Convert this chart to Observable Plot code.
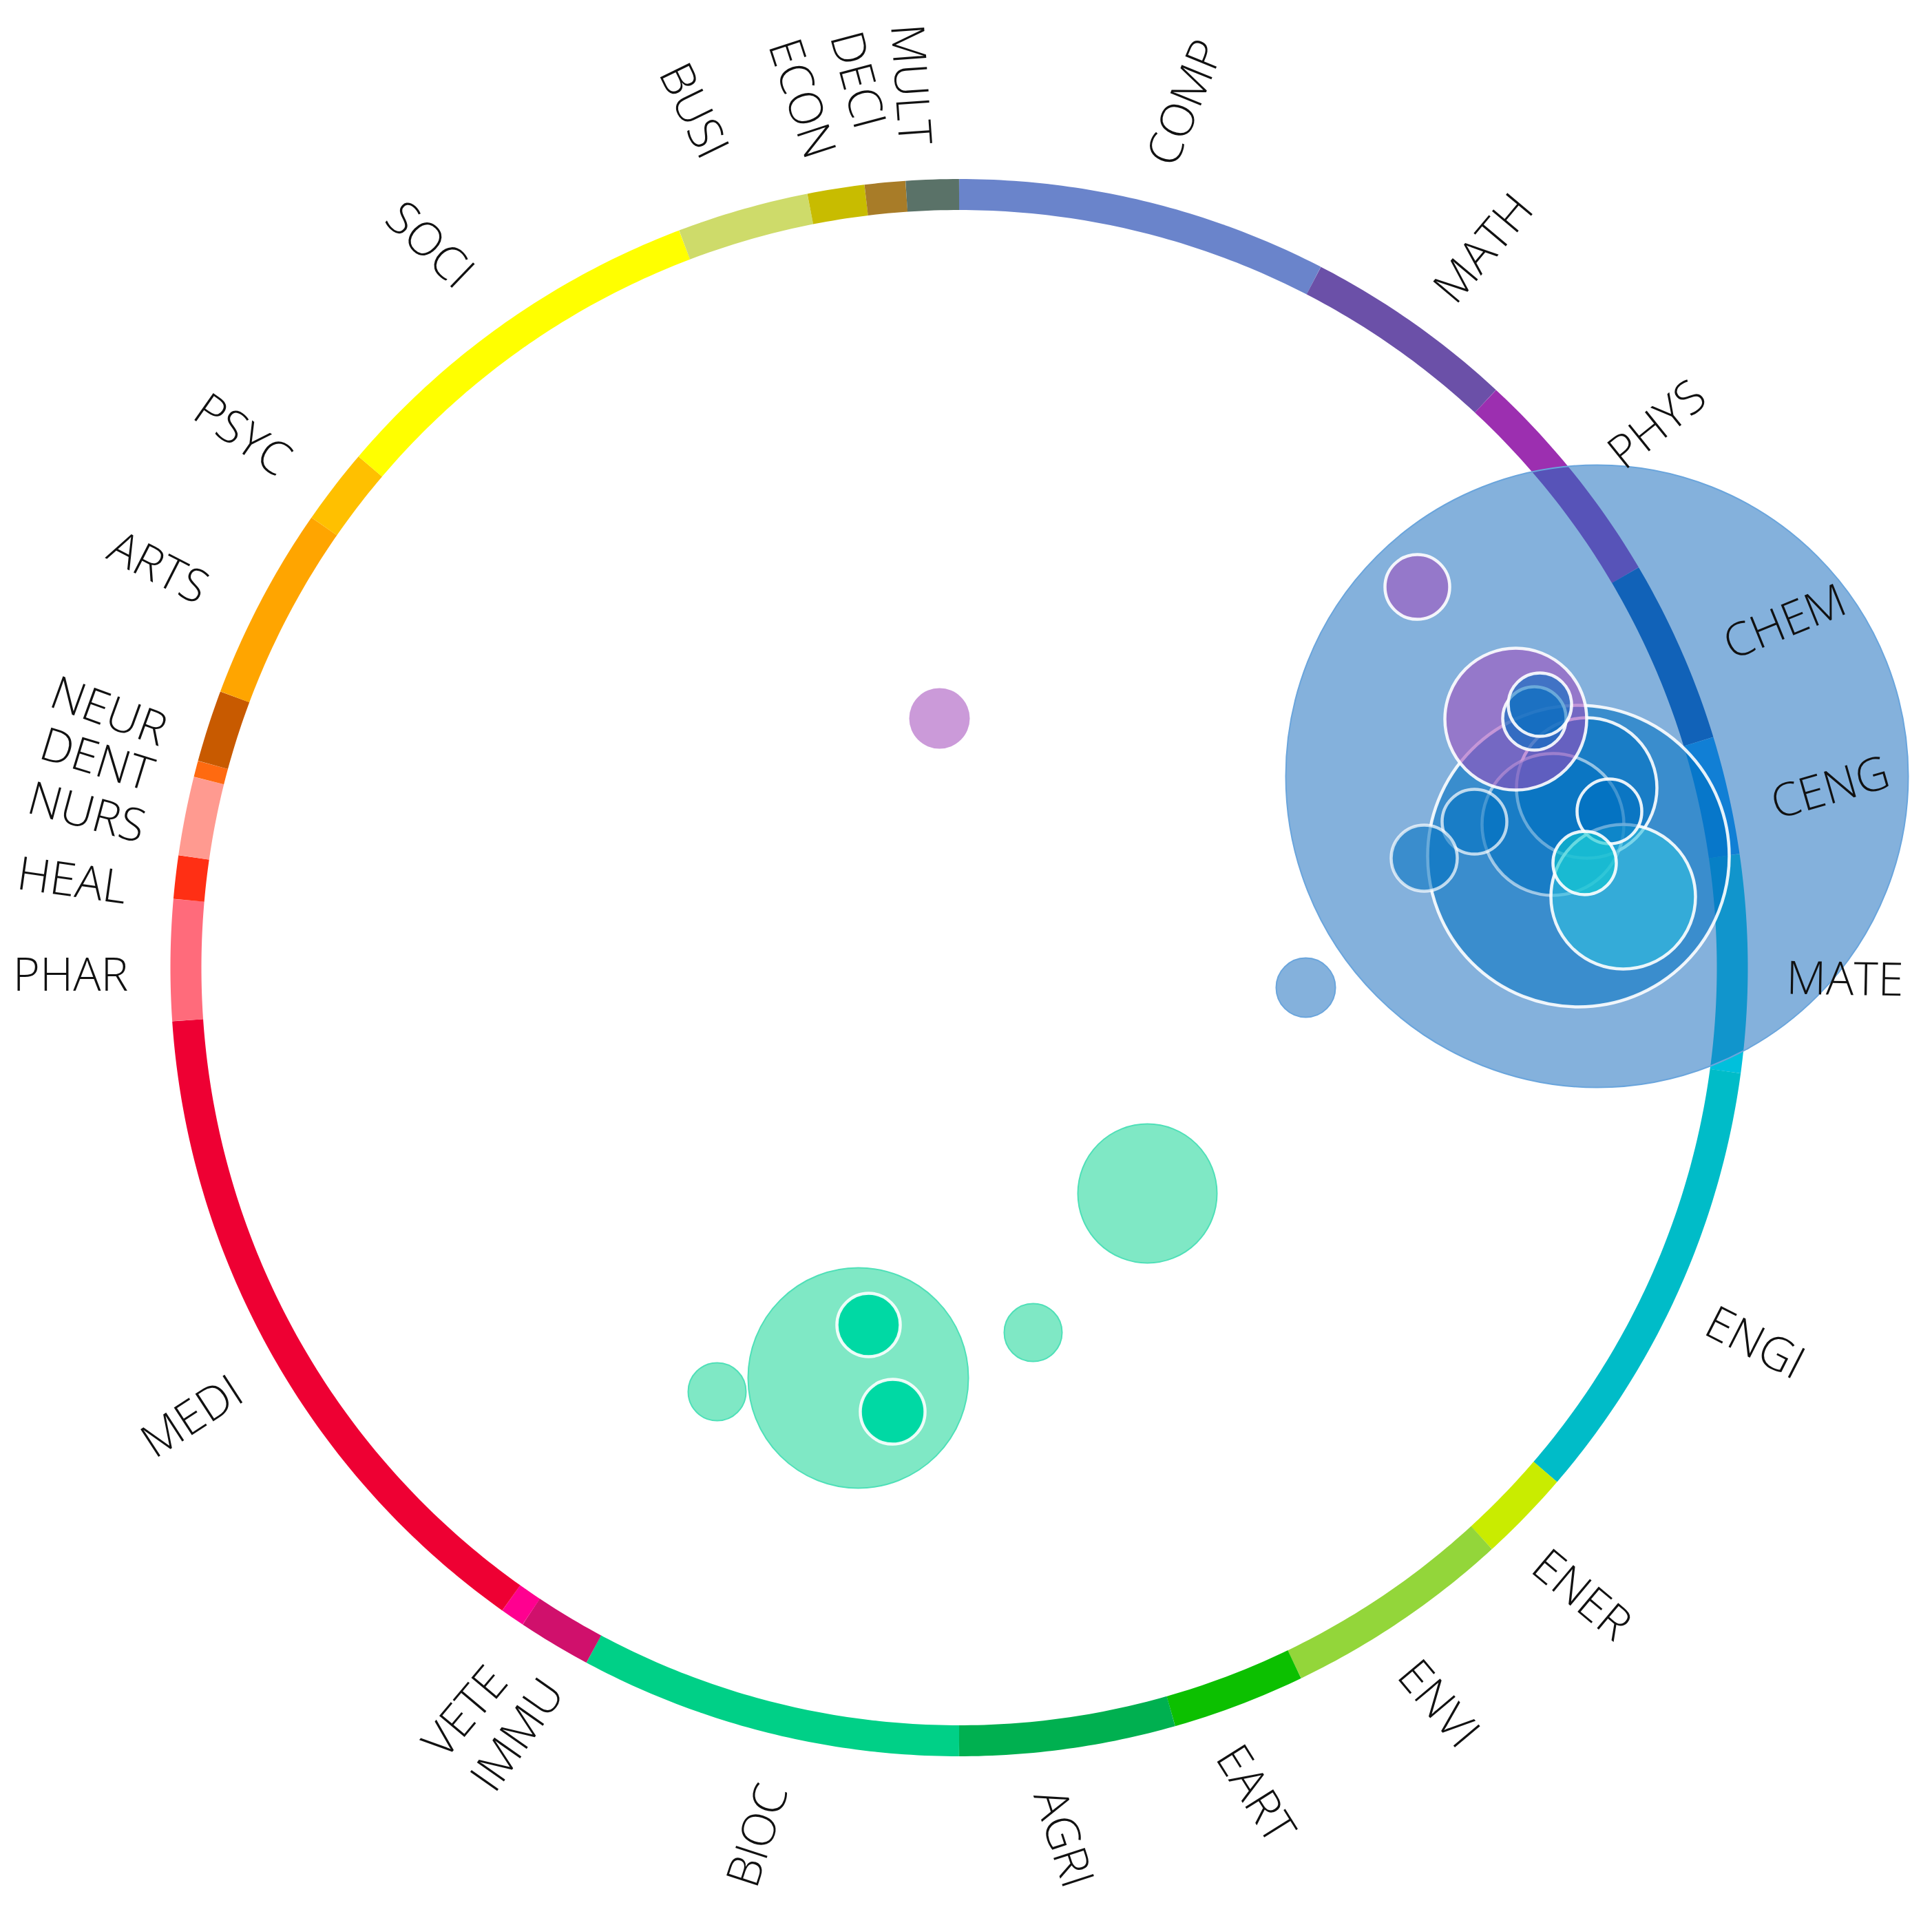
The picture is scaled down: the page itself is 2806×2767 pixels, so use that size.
<!DOCTYPE html>
<html>
<head>
<meta charset="utf-8">
<script src="https://cdn.jsdelivr.net/npm/d3@7"></script>
<script src="https://cdn.jsdelivr.net/npm/@observablehq/plot@0.6"></script>
<style>html,body{margin:0;padding:0;background:#fff}svg{display:block}</style>
</head>
<body>
<div id="chart"></div>
<script>
// Ring: clockwise from the top, end angle (degrees) of every category
const categories = ["COMP","MATH","PHYS","CHEM","CENG","MATE","ENGI","ENER","ENVI","EART","AGRI","BIOC","IMMU","VETE","MEDI","PHAR","HEAL","NURS","DENT","NEUR","ARTS","PSYC","SOCI","BUSI","ECON","DECI","MULT"];
const endAngles = [27.3,42.9,59.5,73,81.7,97.7,130.7,137.5,154.3,164.1,180,208.2,213.6,215.4,266.1,275,278.2,284,285.2,290.5,304.8,310.4,339.2,348.9,353.1,356.1,360];
const ringColors = ["#6a84cb","#6b50a8","#9c2fb0","#0050b0","#0090f0","#00c0dc","#00bcc8","#c9ec00","#93d63a","#0cc000","#00b050","#00d087","#d0106c","#ff0090","#ee0033","#ff6b7b","#ff2f14","#ff9a90","#ff6a10","#c85a00","#ffa500","#ffc000","#ffff00","#cedb6a","#c8bc00","#a87c28","#5a7268"];

// Labels
const labelNames = ["COMP","MATH","PHYS","CHEM","CENG","MATE","ENGI","ENER","ENVI","EART","AGRI","BIOC","IMMU","VETE","MEDI","PHAR","HEAL","NURS","DENT","NEUR","ARTS","PSYC","SOCI","BUSI","ECON","DECI","MULT"];
const labelX = [1722,2155,2407,2592,2658,2679,2548,2296,2088,1822,1543,1101,752,676,279,102,104,125,140,157,229,351,623,1006,1163,1244,1321];
const labelY = [149,361,617,904,1145,1423,1951,2317,2475,2606,2670,2666,2520,2487,2058,1417,1280,1181,1104,1034,825,632,356,161,143,116,122];
const labelRotate = [-68,-50,-39,-22,-16,1,27,40,50,58,72,-72,-55,-50,-33,0,8,15,17,20,27,35,44,64,72,75,86];

// Bubbles, in drawing order
const blobX = [2319,1896,2292,2304,2255,2357,2201,2058,2228,2236,2337,2141,2068,2301,1364,1666,1246,1500,1041,1261,1296];
const blobY = [1127,1434,1243,1144,1197,1302,1044,852,1043,1023,1178,1193,1246,1253,1043,1733,2001,1935,2021,1924,2050];
const blobSize = [452,43,219,102,103,105,103,47,46,46,47,47,48,46,44,101,160,42,42,46,47];
const blobGroup = ["outer","outer","blue","blue","blue","teal","purple","purple","blue","blue","blue","blue","blue","tealSmall","purple","green","green","green","green","greenInner","greenInner"];
const blobEdge = ["thin","thin","white","white","faint","white","white","white","white","white","white","soft","soft","white","none","thin","thin","thin","thin","white","white"];

const groupFill = {outer:"#1f71bf",blue:"#0070c0",teal:"#30c0e0",tealSmall:"#10c8d0",purple:"#a24bbb",green:"#00d18b",greenInner:"#00d9a4"};
const groupOpacity = {outer:0.55,blue:0.56,teal:0.6,tealSmall:0.6,purple:0.56,green:0.5,greenInner:1};
const groupThin = {outer:"#6aa5dc",green:"#4fe0b8"};
const edgeOpacity = {white:0.9,soft:0.7,faint:0.55,thin:1,none:0};

const cx = 1392.5, cy = 1405, ringR = 1123;
const ringPoints = categories.flatMap((name,i) => {
  const a0 = i ? endAngles[i-1] : 0, a1 = endAngles[i];
  return d3.range(a0, a1, 0.5).concat([a1]).map(a => ({
    name, color: ringColors[i],
    x: cx + ringR*Math.sin(a*Math.PI/180),
    y: cy - ringR*Math.cos(a*Math.PI/180)
  }));
});
const labels = labelNames.map((t,i) => ({t,x:labelX[i],y:labelY[i],rot:labelRotate[i]}));
const blobs = blobX.map((x,i) => ({x,y:blobY[i],r:blobSize[i],group:blobGroup[i],edge:blobEdge[i]}));
const strokeOf = d => d.edge==="thin" ? groupThin[d.group] : d.edge==="none" ? "none" : "#ffffff";

const chart = Plot.plot({
  width: 2806, height: 2767, margin: 0,
  style: {background:"#fff"},
  x: {domain:[0,2806], range:[0,2806], axis:null},
  y: {domain:[0,2767], range:[0,2767], axis:null},
  r: {type:"linear", domain:[0,500], range:[0,500]},
  marks: [
    Plot.line(ringPoints, {x:"x", y:"y", z:"name", stroke:d=>d.color, strokeWidth:45, strokeLinecap:"butt", strokeLinejoin:"round"}),
    Plot.dot(blobs, {x:"x", y:"y", r:"r", sort:null,
      fill:d=>groupFill[d.group], fillOpacity:d=>groupOpacity[d.group],
      stroke:strokeOf, strokeOpacity:d=>edgeOpacity[d.edge], strokeWidth:d=>d.edge==="thin"?2:4.5}),
    Plot.text(labels, {x:"x", y:"y", text:"t", rotate:"rot", textAnchor:"middle", lineAnchor:"middle",
      fontFamily:"'Open Sans'", fontWeight:300, fontSize:67, fill:"#111"})
  ]
});
document.getElementById("chart").appendChild(chart);
</script>
</body>
</html>
